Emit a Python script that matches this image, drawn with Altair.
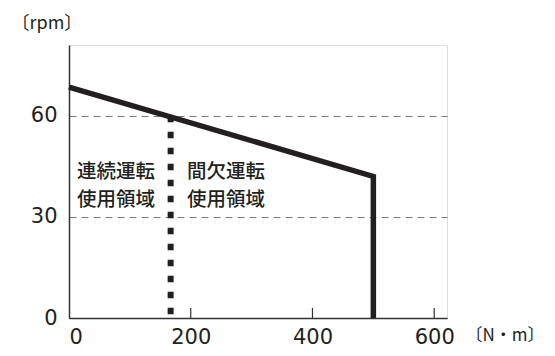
import altair as alt
import pandas as pd

# data
curve_x = [0, 500, 500]
curve_y = [68.5, 42, 0]
cont_x = [167, 167]
cont_y = [60, 0]
tick_x = [200, 400, 600]
label_x = [13, 13, 194, 194]
label_y = [43.4, 34.9, 43.4, 34.9]
label_text = ["連続運転", "使用領域", "間欠運転", "使用領域"]

FONT = "Noto Sans CJK JP"
NUMFONT = "DejaVu Sans"
INK = "#231f20"

curve = pd.DataFrame({"x": curve_x, "y": curve_y, "o": list(range(len(curve_x)))})
cont = pd.DataFrame({"x": cont_x, "y": cont_y})
ticks = pd.DataFrame({"x": tick_x, "y": [0] * len(tick_x), "y2": [3] * len(tick_x)})
labels = pd.DataFrame({"x": label_x, "y": label_y, "t": label_text})

xs = alt.Scale(domain=[0, 621], nice=False, zero=False)
ys = alt.Scale(domain=[0, 81], nice=False, zero=False)

xaxis = alt.Axis(values=[0, 200, 400, 600], grid=False, ticks=False,
                 labelFont=NUMFONT, labelFontSize=21, labelColor=INK, labelPadding=8,
                 domainColor="#333333", domainWidth=1.5,
                 title="〔N・m〕", titleFont=FONT, titleFontSize=17, titleFontWeight="normal",
                 titleColor=INK, titleX=396, titleY=17, titleAlign="left",
                 titleBaseline="middle", titleAnchor="start")
yaxis = alt.Axis(values=[0, 30, 60], grid=True, gridDash=[7, 5], gridColor="#7a7a7a",
                 gridWidth=1, ticks=False,
                 labelFont=NUMFONT, labelFontSize=21, labelColor=INK, labelPadding=12,
                 domainColor="#333333", domainWidth=1.5,
                 title="〔rpm〕", titleFont=FONT, titleFontSize=18, titleFontWeight="normal",
                 titleColor=INK, titleAngle=0, titleX=-58, titleY=-22, titleAlign="left",
                 titleBaseline="middle", titleAnchor="start")

base_line = alt.Chart(curve).mark_line(color=INK, strokeWidth=5.5, strokeJoin="miter").encode(
    x=alt.X("x:Q", scale=xs, axis=xaxis),
    y=alt.Y("y:Q", scale=ys, axis=yaxis),
    order="o:Q",
)

cont_line = alt.Chart(cont).mark_line(color=INK, strokeWidth=6, strokeDash=[6.5, 9.5],
                                       strokeCap="butt").encode(
    x=alt.X("x:Q", scale=xs), y=alt.Y("y:Q", scale=ys))

tick_rules = alt.Chart(ticks).mark_rule(color="#333333", strokeWidth=1.2).encode(
    x=alt.X("x:Q", scale=xs), y=alt.Y("y:Q", scale=ys), y2="y2:Q")

texts = alt.Chart(labels).mark_text(font=FONT, fontSize=19.5, fontWeight=500, color=INK,
                                    align="left", baseline="middle").encode(
    x=alt.X("x:Q", scale=xs), y=alt.Y("y:Q", scale=ys), text="t:N")

chart = alt.layer(tick_rules, cont_line, base_line, texts).properties(
    width=378, height=273,
    autosize=alt.AutoSizeParams(type="none"),
    padding={"left": 61, "top": 37, "right": 100, "bottom": 30},
).configure_view(stroke="#333333", strokeWidth=1.5).configure(background="white")

chart.save("out.html", embed_options={"renderer": "svg", "actions": False})
